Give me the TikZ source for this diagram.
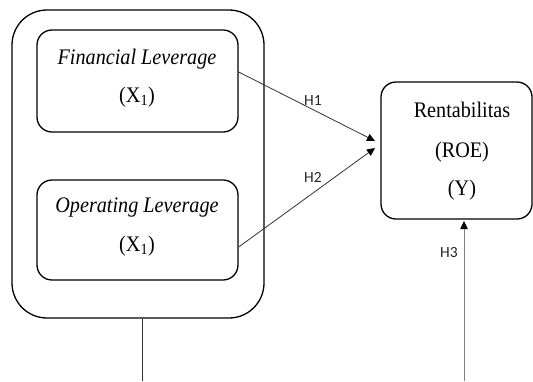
\documentclass[tikz,border=0pt]{standalone}
\usepackage{fontspec}
\usepackage{graphicx}
\setmainfont{Liberation Serif}
\newfontfamily\labfont{Carlito}
\newcommand{\vstr}[1]{\scalebox{1}[1.1]{#1}}
\usetikzlibrary{arrows.meta}
\begin{document}
\begin{tikzpicture}[x=1pt,y=-1pt,
  box/.style={draw=black,line width=1.3pt,inner sep=0pt},
  txt/.style={font=\fontsize{20.2}{24}\selectfont,inner sep=0pt},
  lab/.style={font=\labfont\fontsize{15.5}{17}\selectfont,inner sep=0pt,text=black!85},
  conn/.style={draw=black!80,line width=0.8pt,-{Triangle[length=8pt,width=7.5pt,color=black,fill=black]}},
  plain/.style={draw=black!80,line width=0.8pt}]
\useasboundingbox (0,0) rectangle (533,381);
\node[box,rounded corners=35pt,minimum width=252pt,minimum height=308pt] (outer) at (138,164) {};
\node[box,rounded corners=15pt,minimum width=201pt,minimum height=102pt] (f) at (137.5,81) {};
\node[box,rounded corners=15pt,minimum width=201pt,minimum height=100pt] (o) at (137.5,230) {};
\node[box,rounded corners=15pt,minimum width=151pt,minimum height=137pt] (r) at (456.5,150.5) {};
\node[txt] (ft) at (137,59) {\vstr{\itshape Financial Leverage}};
\node[txt] (fx) at (137,97) {\vstr{(X\textsubscript{1})}};
\node[txt] (ot) at (137,208) {\vstr{\itshape Operating Leverage}};
\node[txt] (ox) at (137,246) {\vstr{(X\textsubscript{1})}};
\node[txt] (rt) at (462,110) {\vstr{Rentabilitas}};
\node[txt] (rr) at (462,152) {\vstr{(ROE)}};
\node[txt] (ry) at (462,190) {\vstr{(Y)}};
\coordinate (t1) at (375,141);
\coordinate (t2) at (375,148);
\coordinate (h3s) at (464,381);
\coordinate (h3e) at (464,221);
\coordinate (bs) at (142,381);
\draw[conn] ([yshift=9pt]f.east) -- (t1);
\draw[conn] ([yshift=-17pt]o.east) -- (t2);
\draw[conn,draw=black!50] (h3s) -- (h3e);
\draw[plain] ([xshift=4pt]outer.south) -- (bs);
\node[lab] (l1) at (313,101) {H1};
\node[lab] (l2) at (313,177) {H2};
\node[lab] (l3) at (449,253) {H3};
\end{tikzpicture}
\end{document}
